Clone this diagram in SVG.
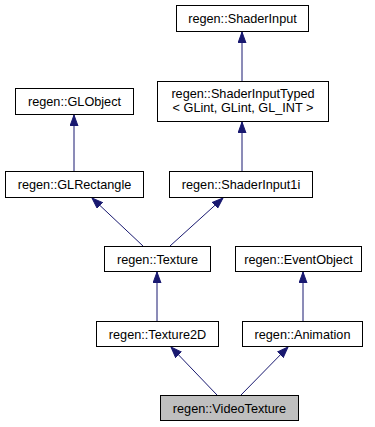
<svg xmlns="http://www.w3.org/2000/svg" width="375" height="427" viewBox="0 0 375 427">
  <style>
    .box { fill: #ffffff; stroke: #000000; stroke-width: 1; }
    .cur { fill: #bfbfbf; stroke: #000000; stroke-width: 1; }
    .lbl { font-family: "Liberation Sans", Arial, sans-serif; font-size: 12.7px; fill: #000000; text-anchor: middle; }
    .edge { fill: none; stroke: #191970; stroke-width: 1; marker-start: url(#inh); }
  </style>
  <defs>
    <marker id="inh" markerUnits="userSpaceOnUse" markerWidth="12" markerHeight="9" refX="11" refY="4.5" orient="auto-start-reverse">
      <path d="M0,0.5 L11,4.5 L0,8.5 Z" fill="#191970" stroke="#191970" stroke-width="1"/>
    </marker>
  </defs>
  <rect width="375" height="427" fill="#ffffff"/>

  <g id="edges">
    <path class="edge" d="M242,32 V81"/>
    <path class="edge" d="M74,115 V172"/>
    <path class="edge" d="M242,122 V172"/>
    <path class="edge" d="M92,198 L143,246"/>
    <path class="edge" d="M223,198 L170,246"/>
    <path class="edge" d="M157,272 V321"/>
    <path class="edge" d="M303,272 V321"/>
    <path class="edge" d="M171,347 L217,395"/>
    <path class="edge" d="M288,347 L241,395"/>
  </g>

  <g id="node-ShaderInput">
    <rect class="box" x="176.5" y="5.5" width="132" height="26"/>
    <text class="lbl" x="242.5" y="23">regen::ShaderInput</text>
  </g>
  <g id="node-ShaderInputTyped">
    <rect class="box" x="157.5" y="81.5" width="171" height="40"/>
    <text class="lbl" x="243" y="98">regen::ShaderInputTyped</text>
    <text class="lbl" x="243" y="111.5">&lt; GLint, GLint, GL_INT &gt;</text>
  </g>
  <g id="node-GLObject">
    <rect class="box" x="15.5" y="88.5" width="118" height="26"/>
    <text class="lbl" x="74.5" y="106">regen::GLObject</text>
  </g>
  <g id="node-GLRectangle">
    <rect class="box" x="5.5" y="171.5" width="138" height="26"/>
    <text class="lbl" x="74.5" y="189">regen::GLRectangle</text>
  </g>
  <g id="node-ShaderInput1i">
    <rect class="box" x="169.5" y="171.5" width="143" height="26"/>
    <text class="lbl" x="241" y="189">regen::ShaderInput1i</text>
  </g>
  <g id="node-Texture">
    <rect class="box" x="104.5" y="246.5" width="106" height="25"/>
    <text class="lbl" x="157.5" y="263.5">regen::Texture</text>
  </g>
  <g id="node-EventObject">
    <rect class="box" x="235.5" y="246.5" width="126" height="25"/>
    <text class="lbl" x="298.5" y="263.5">regen::EventObject</text>
  </g>
  <g id="node-Texture2D">
    <rect class="box" x="96.5" y="321.5" width="122" height="25"/>
    <text class="lbl" x="157.5" y="338.5">regen::Texture2D</text>
  </g>
  <g id="node-Animation">
    <rect class="box" x="242.5" y="321.5" width="120" height="25"/>
    <text class="lbl" x="302.5" y="338.5">regen::Animation</text>
  </g>
  <g id="node-VideoTexture">
    <rect class="cur" x="160.5" y="395.5" width="138" height="25"/>
    <text class="lbl" x="229.5" y="412.5">regen::VideoTexture</text>
  </g>
</svg>
